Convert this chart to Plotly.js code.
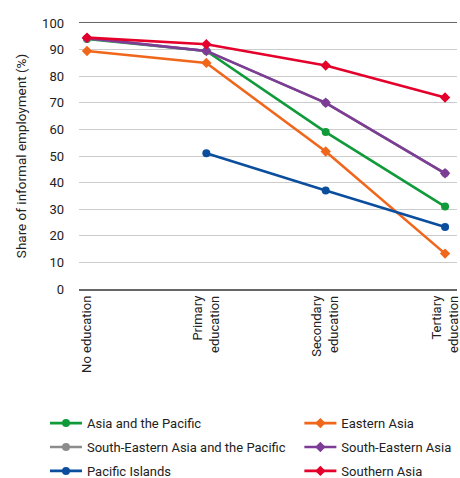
<!DOCTYPE html>
<html><head><meta charset="utf-8">
<script src="https://cdn.plot.ly/plotly-3.0.1.min.js"></script>
<style>body{margin:0;background:#fff}#chart{width:460px;height:478px}</style>
</head><body><div id="chart"></div>
<script>
const categories = ["No education", "Primary<br>education", "Secondary<br>education", "Tertiary<br>education"];
const asiaPacific = [94, 89.5, 59, 31];
const easternAsia = [89.5, 85, 51.7, 13.3];
const seAsiaPacific = [94.3, 89.5, 70, 43.5];
const seAsia = [94.3, 89.5, 70, 43.5];
const pacificIslands = [null, 51, 37, 23.3];
const southernAsia = [94.5, 92, 84, 72];

const FONT = '"Roboto", "Liberation Sans", sans-serif';
const xIdx = [0, 1, 2, 3];
function tr(name, y, color, symbol, leg) {
  return {x: xIdx, y: y, name: name, type: 'scatter', mode: 'lines+markers',
    line: {color: color, width: 2.6}, marker: {color: color, symbol: symbol, size: 8},
    connectgaps: false, legend: leg, legendgroup: name};
}
const data = [
  tr("Asia and the Pacific", asiaPacific, "#109a3a", "circle", "legend"),
  tr("Eastern Asia", easternAsia, "#f0671c", "diamond", "legend2"),
  tr("South-Eastern Asia and the Pacific", seAsiaPacific, "#8c8c8c", "circle", "legend"),
  tr("South-Eastern Asia", seAsia, "#7d3c96", "diamond", "legend2"),
  tr("Pacific Islands", pacificIslands, "#0b4e9e", "circle", "legend"),
  tr("Southern Asia", southernAsia, "#e4002b", "diamond", "legend2")
];
const legendBase = {orientation: 'v', xanchor: 'left', y: -0.448, yanchor: 'top',
  traceorder: 'grouped', tracegroupgap: 4, itemwidth: 32, bgcolor: 'rgba(0,0,0,0)',
  font: {family: FONT, size: 13, color: '#222'}};
const layout = {
  width: 460, height: 478,
  margin: {l: 79, r: 3, t: 23, b: 189, autoexpand: false},
  paper_bgcolor: '#fff', plot_bgcolor: '#fff',
  font: {family: FONT, size: 13, color: '#222'},
  showlegend: true,
  xaxis: {range: [-0.067, 3.1], tickvals: xIdx, ticktext: categories, tickangle: -90,
    showgrid: false, zeroline: false, showline: true, mirror: true, linecolor: '#666', linewidth: 1.5,
    ticks: '', ticklabeloverflow: 'allow', automargin: false,
    tickfont: {family: FONT, size: 13, color: '#222'}},
  yaxis: {range: [0, 100], dtick: 10, showgrid: true, gridcolor: '#cccccc', gridwidth: 1,
    zeroline: false, showline: false, ticks: '', ticklabelstandoff: 14, automargin: false,
    tickfont: {family: FONT, size: 13, color: '#222'},
    title: {text: 'Share of informal employment (%)', font: {family: FONT, size: 13.5, color: '#222'}, standoff: 12}},
  legend: Object.assign({}, legendBase, {x: -0.09}),
  legend2: Object.assign({}, legendBase, {x: 0.583})
};
Plotly.newPlot('chart', data, layout, {displayModeBar: false, staticPlot: true});
</script>
</body></html>
